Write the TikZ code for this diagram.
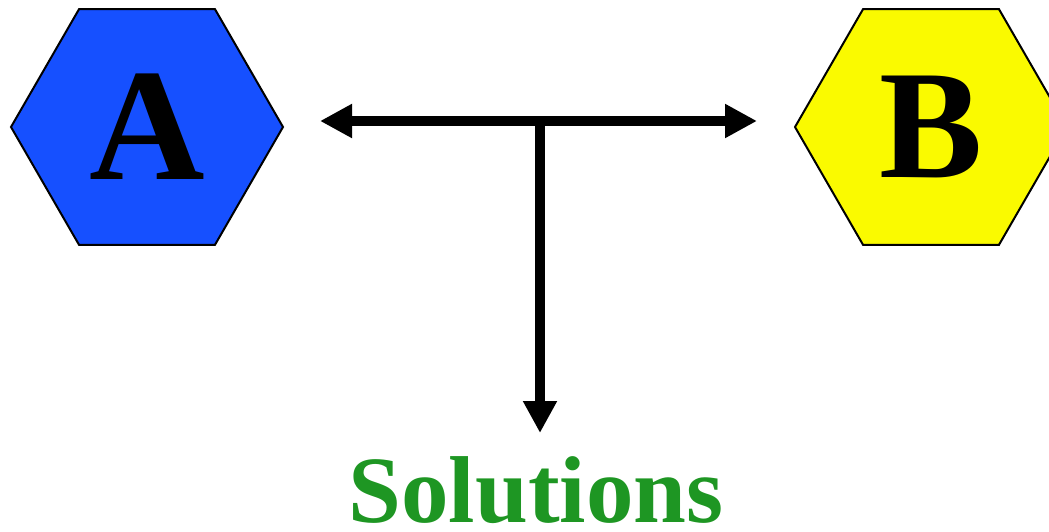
\documentclass[tikz,border=0pt]{standalone}
\usepackage{fontspec}
\setmainfont{Liberation Serif}
\usepackage{xcolor}
\usepackage{tikz}
\usetikzlibrary{shapes,arrows.meta,positioning,calc}
\definecolor{hexblue}{RGB}{22,80,255}
\definecolor{hexyellow}{RGB}{250,250,0}
\definecolor{solgreen}{RGB}{30,150,35}

\begin{document}
\begin{tikzpicture}[x=1pt, y=-1pt, font=\bfseries,
    hexagon/.style={regular polygon, regular polygon sides=6, draw=black, line width=2pt, minimum size=272pt, inner sep=0pt},
    bigarrow/.style={line width=10pt, -{Triangle[length=32pt, width=32pt]}}]
        \useasboundingbox (0,0) rectangle (1049,532);
        \node[hexagon, fill=hexblue] (A) at (147,127) {\fontsize{160}{160}\selectfont A};
        \node[hexagon, fill=hexyellow] (B) at (931,127) {\fontsize{155}{155}\selectfont B};
        \node[anchor=base, inner sep=0pt, text=solgreen] (solutions) at (536,522) {\fontsize{95}{95}\selectfont Solutions};
        \coordinate (junction) at (540,121);
        \coordinate (lefttip) at (320,121);
        \coordinate (righttip) at (757,121);
        \coordinate (downtip) at (540,433);
        \draw[bigarrow, {Triangle[length=32pt, width=32pt]}-{Triangle[length=32pt, width=32pt]}] (lefttip) -- (righttip);
        \draw[bigarrow] ([yshift=-5pt]junction) -- (downtip);
      \end{tikzpicture}
\end{document}
